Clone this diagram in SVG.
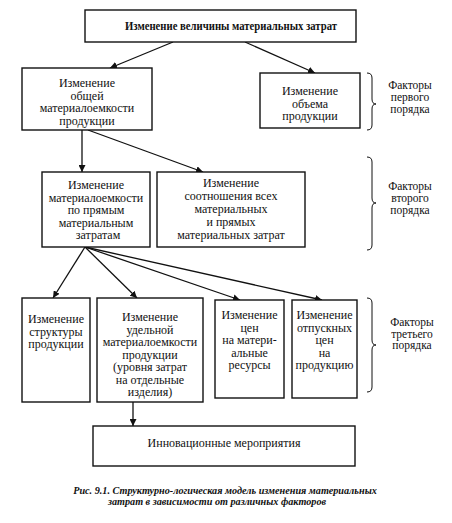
<svg xmlns="http://www.w3.org/2000/svg" width="452" height="523" viewBox="0 0 452 523">
<defs>
<style>
.box{fill:#fff;stroke:#111;stroke-width:1.4}
text{font-family:'Liberation Serif','Times New Roman',Times,serif;fill:#111;text-anchor:middle}
.t{font-size:12px}
.b{font-weight:bold}
.lbl{font-size:11.5px}
.cap{font-size:10.2px;font-weight:bold;font-style:italic}
.ln{stroke:#111;stroke-width:1.3;fill:none;marker-end:url(#ah)}
.br{stroke:#111;stroke-width:1;fill:none}
</style>
<marker id="ah" viewBox="0 0 10 10" refX="10" refY="5" markerWidth="7" markerHeight="7" markerUnits="userSpaceOnUse" orient="auto">
<path d="M0,0 L10,5 L0,10 z" fill="#111"/>
</marker>
</defs>
<rect width="452" height="523" fill="#fff"/>

<g id="connectors">
<line class="ln" x1="173" y1="42" x2="110" y2="68"/>
<line class="ln" x1="245" y1="42" x2="315" y2="73"/>
<line class="ln" x1="82" y1="130" x2="82" y2="172"/>
<line class="ln" x1="88" y1="130" x2="203" y2="172"/>
<line class="ln" x1="85" y1="247" x2="53" y2="298"/>
<line class="ln" x1="85" y1="247" x2="137" y2="298"/>
<line class="ln" x1="85" y1="247" x2="240" y2="300"/>
<line class="ln" x1="85" y1="247" x2="322" y2="300"/>
<line class="ln" x1="133" y1="402" x2="133" y2="426"/>
</g>

<g id="top">
<rect class="box" x="85" y="10" width="271" height="32"/>
<text class="t b" x="231" y="29.5" font-size="11.5" textLength="212" lengthAdjust="spacingAndGlyphs">Изменение величины материальных затрат</text>
</g>

<g id="n-total">
<rect class="box" x="22" y="68" width="130" height="62"/>
<text class="t"><tspan x="87" y="87">Изменение</tspan><tspan x="87" y="99.5">общей</tspan><tspan x="87" y="112">материалоемкости</tspan><tspan x="87" y="124.5">продукции</tspan></text>
</g>

<g id="n-volume">
<rect class="box" x="260" y="73" width="100" height="55"/>
<text class="t"><tspan x="310" y="95">Изменение</tspan><tspan x="310" y="107.5">объема</tspan><tspan x="310" y="120">продукции</tspan></text>
</g>

<g id="n-direct">
<rect class="box" x="42" y="172" width="108" height="75"/>
<text class="t"><tspan x="96" y="189">Изменение</tspan><tspan x="96" y="201.5">материалоемкости</tspan><tspan x="96" y="214">по прямым</tspan><tspan x="96" y="226.5">материальным</tspan><tspan x="98" y="239">затратам</tspan></text>
</g>

<g id="n-ratio">
<rect class="box" x="157" y="172" width="148" height="75"/>
<text class="t"><tspan x="231" y="187">Изменение</tspan><tspan x="231" y="200">соотношения всех</tspan><tspan x="231" y="213">материальных</tspan><tspan x="231" y="226">и прямых</tspan><tspan x="231" y="238.5">материальных затрат</tspan></text>
</g>

<g id="n-structure">
<rect class="box" x="22" y="298" width="68" height="104"/>
<text class="t"><tspan x="56" y="323">Изменение</tspan><tspan x="56" y="335.5">структуры</tspan><tspan x="56" y="348">продукции</tspan></text>
</g>

<g id="n-specific">
<rect class="box" x="97" y="298" width="106" height="104"/>
<text class="t"><tspan x="150" y="321">Изменение</tspan><tspan x="150" y="333.5">удельной</tspan><tspan x="150" y="346">материалоемкости</tspan><tspan x="150" y="358.5">продукции</tspan><tspan x="150" y="371">(уровня затрат</tspan><tspan x="150" y="383.5">на отдельные</tspan><tspan x="150" y="396">изделия)</tspan></text>
</g>

<g id="n-prices-res">
<rect class="box" x="215" y="300" width="69" height="98"/>
<text class="t"><tspan x="249.5" y="319">Изменение</tspan><tspan x="249.5" y="331.5">цен</tspan><tspan x="249.5" y="344">на матери-</tspan><tspan x="249.5" y="356.5">альные</tspan><tspan x="249.5" y="369">ресурсы</tspan></text>
</g>

<g id="n-prices-prod">
<rect class="box" x="292" y="300" width="65" height="98"/>
<text class="t"><tspan x="324.5" y="319">Изменение</tspan><tspan x="324.5" y="331.5">отпускных</tspan><tspan x="324.5" y="344">цен</tspan><tspan x="324.5" y="356.5">на</tspan><tspan x="324.5" y="369">продукцию</tspan></text>
</g>

<g id="n-innov">
<rect class="box" x="93" y="426" width="262" height="40"/>
<text class="t" x="224" y="447">Инновационные мероприятия</text>
</g>

<g id="braces">
<path class="br" d="M367,73 Q372,73 372,78 L372,99 Q372,104 376,104 Q372,104 372,109 L372,125 Q372,130 367,130"/>
<path class="br" d="M367,157 Q372,157 372,162 L372,198 Q372,203 376,203 Q372,203 372,208 L372,245 Q372,250 367,250"/>
<path class="br" d="M367,298 Q372,298 372,303 L372,340 Q372,345 376,345 Q372,345 372,350 L372,387 Q372,392 367,392"/>
</g>

<g id="labels">
<text class="lbl"><tspan x="410" y="89">Факторы</tspan><tspan x="410" y="101">первого</tspan><tspan x="410" y="113">порядка</tspan></text>
<text class="lbl"><tspan x="410" y="190">Факторы</tspan><tspan x="410" y="202">второго</tspan><tspan x="410" y="213.5">порядка</tspan></text>
<text class="lbl"><tspan x="412" y="326">Факторы</tspan><tspan x="412" y="337.5">третьего</tspan><tspan x="412" y="349">порядка</tspan></text>
</g>

<g id="caption">
<text class="cap"><tspan x="225" y="494">Рис. 9.1. Структурно-логическая модель изменения материальных</tspan><tspan x="217" y="505">затрат в зависимости от различных факторов</tspan></text>
</g>
</svg>
